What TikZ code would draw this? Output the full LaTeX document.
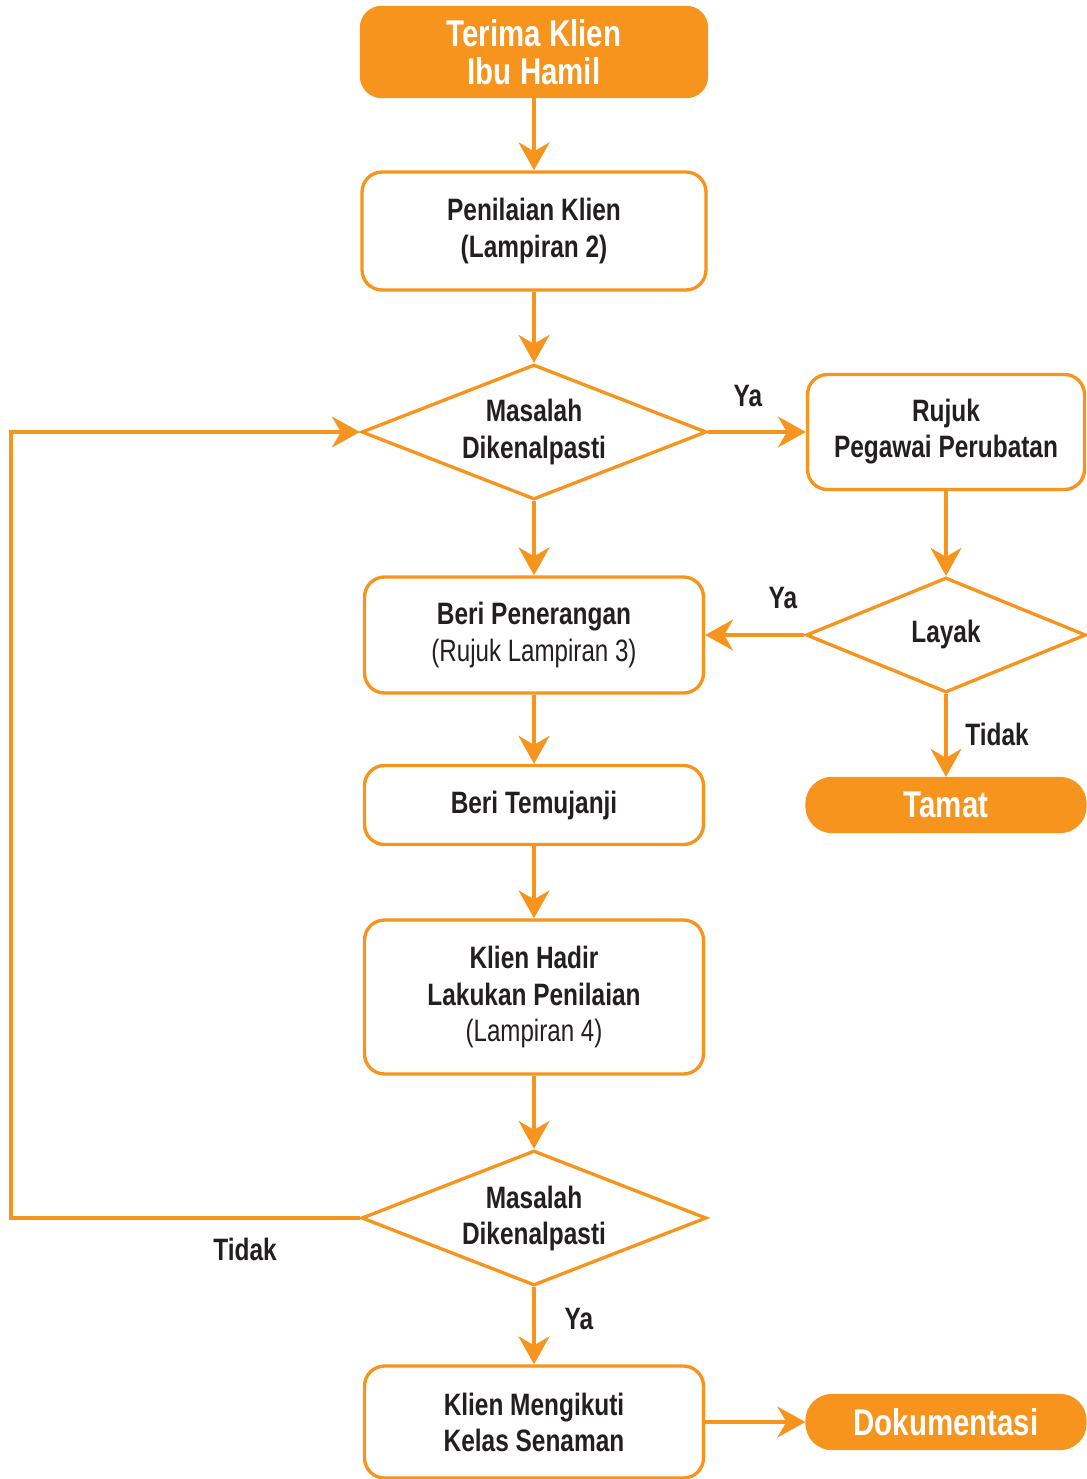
\documentclass[tikz,border=0pt]{standalone}
\usepackage{fontspec}
\setmainfont{Liberation Sans}[FakeStretch=0.79]
\newfontfamily\lightfont{Liberation Sans}[FakeStretch=0.78]
\usetikzlibrary{shapes.geometric,arrows.meta}
\definecolor{oren}{RGB}{247,148,30}
\definecolor{teks}{RGB}{35,31,32}

\tikzset{
    kotak/.style={draw=oren, line width=1.9pt, rounded corners=0.4cm, fill=white,
        text=teks, align=center, inner sep=0pt,
        font=\fontsize{17.6}{20.5}\selectfont\bfseries},
    hujung/.style={fill=oren, draw=oren, line width=1.9pt, text=white, align=center,
        inner sep=0pt, font=\fontsize{21.2}{21.6}\selectfont\bfseries},
    soalan/.style={diamond, draw=oren, line width=1.9pt, fill=white, text=teks,
        align=center, inner sep=0pt, font=\fontsize{17.6}{20.5}\selectfont\bfseries},
    aliran/.style={draw=oren, line width=1.9pt,
        -{Stealth[length=0.56cm,width=0.62cm,inset=0.18cm]}},
    label/.style={text=teks, font=\fontsize{17.6}{20.5}\selectfont\bfseries}
}

\begin{document}
\begin{tikzpicture}[x=0.02cm,y=-0.02cm]
    \useasboundingbox (0,0) rectangle (1086,1479);

    % main column
    \node[hujung, rounded corners=0.4cm, minimum width=6.9cm, minimum height=1.78cm] (terima) at (534,52) {Terima Klien\\Ibu Hamil};
    \node[kotak, minimum width=6.88cm, minimum height=2.36cm] (nilai) at (534,231) {Penilaian Klien\\(Lampiran 2)};
    \node[soalan, aspect=2.55, minimum width=6.9cm, minimum height=2.7cm] (masalah) at (534,432) {Masalah\\Dikenalpasti};
    \node[kotak, minimum width=6.78cm, minimum height=2.32cm] (terang) at (534,635) {Beri Penerangan\\{\lightfont\mdseries (Rujuk Lampiran 3)}};
    \node[kotak, minimum width=6.78cm, minimum height=1.58cm] (janji) at (534,805) {Beri Temujanji};
    \node[kotak, minimum width=6.78cm, minimum height=3.08cm] (hadir) at (534,997) {Klien Hadir\\Lakukan Penilaian\\{\lightfont\mdseries (Lampiran 4)}};
    \node[soalan, aspect=2.55, minimum width=6.9cm, minimum height=2.7cm] (semak) at (534,1218) {Masalah\\Dikenalpasti};
    \node[kotak, minimum width=6.78cm, minimum height=2.24cm] (kelas) at (534,1422) {Klien Mengikuti\\Kelas Senaman};

    % right column
    \node[kotak, minimum width=5.54cm, minimum height=2.3cm] (rujuk) at (946,432) {Rujuk\\Pegawai Perubatan};
    \node[soalan, aspect=2.43, minimum width=5.6cm, minimum height=2.3cm] (layak) at (946,635) {Layak};
    \node[hujung, rounded corners=0.5cm, minimum width=5.56cm, minimum height=1.06cm] (tamat) at (946,805) {Tamat};
    \node[hujung, rounded corners=0.5cm, minimum width=5.56cm, minimum height=1.06cm] (dokumen) at (946,1422) {Dokumentasi};

    \coordinate (pusing) at (11,1218);

    \draw[aliran] (terima) -- (nilai);
    \draw[aliran] (nilai) -- (masalah.north);
    \draw[aliran] (masalah.east) -- (rujuk.west);
    \draw[aliran] (masalah.south) -- (terang);
    \draw[aliran] (rujuk.south) -- (layak.north);
    \draw[aliran] (layak.west) -- (terang.east);
    \draw[aliran] (layak.south) -- (tamat.north);
    \draw[aliran] (terang) -- (janji);
    \draw[aliran] (janji) -- (hadir);
    \draw[aliran] (hadir) -- (semak.north);
    \draw[aliran] (semak.west) -- (pusing) |- (masalah.west);
    \draw[aliran] (semak.south) -- (kelas.north);
    \draw[aliran] (kelas.east) -- (dokumen.west);

    \node[label] (ya1) at (748,396) {Ya};
    \node[label] (ya2) at (783,598) {Ya};
    \node[label] (tidak1) at (997,734) {Tidak};
    \node[label] (tidak2) at (245,1249) {Tidak};
    \node[label] (ya3) at (579,1319) {Ya};
\end{tikzpicture}
\end{document}
